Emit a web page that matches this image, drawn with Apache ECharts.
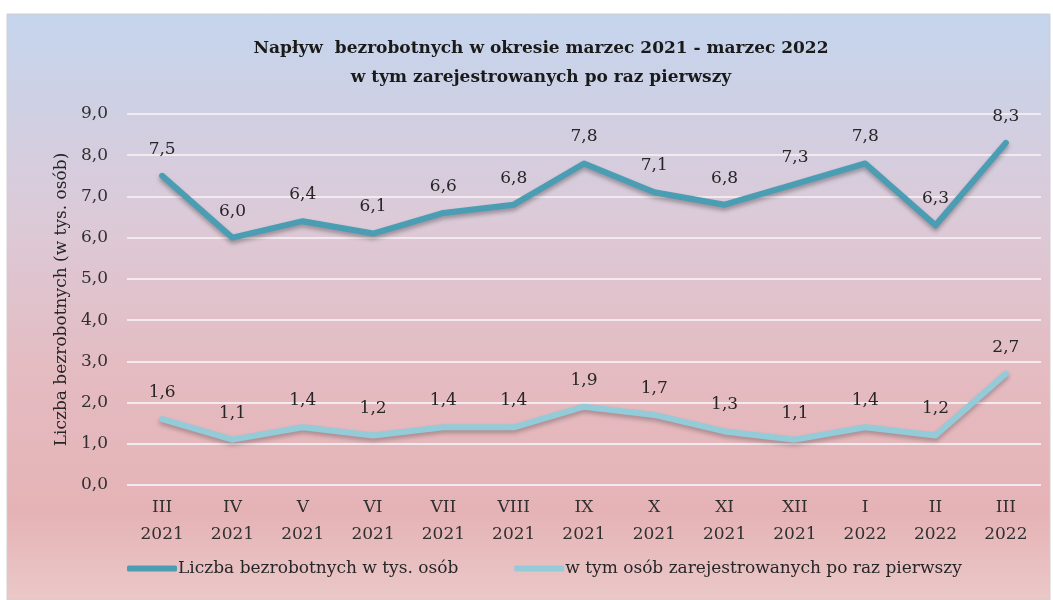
<!DOCTYPE html>
<html>
<head>
<meta charset="utf-8">
<script src="https://cdn.jsdelivr.net/npm/echarts@6/dist/echarts.min.js"></script>
<style>
html,body{margin:0;padding:0;background:#fff;}
#main{width:1053px;height:600px;}
</style>
</head>
<body>
<div id="main"></div>
<script>
var categories = ['III\n2021','IV\n2021','V\n2021','VI\n2021','VII\n2021','VIII\n2021','IX\n2021','X\n2021','XI\n2021','XII\n2021','I\n2022','II\n2022','III\n2022'];
var totalValues = [7.5, 6.0, 6.4, 6.1, 6.6, 6.8, 7.8, 7.1, 6.8, 7.3, 7.8, 6.3, 8.3];
var firstTimeValues = [1.6, 1.1, 1.4, 1.2, 1.4, 1.4, 1.9, 1.7, 1.3, 1.1, 1.4, 1.2, 2.7];
var seriesNames = ['Liczba bezrobotnych w tys. osób', 'w tym osób zarejestrowanych po raz pierwszy'];
var titleText = 'Napływ  bezrobotnych w okresie marzec 2021 - marzec 2022\nw tym zarejestrowanych po raz pierwszy';
var yAxisName = 'Liczba bezrobotnych (w tys. osób)';

var FONT = 'DejaVu Serif';
var fmt = function (v) { return v.toFixed(1).replace('.', ','); };

var chart = echarts.init(document.getElementById('main'), null, {renderer: 'canvas'});
chart.setOption({
  backgroundColor: '#ffffff',
  animation: false,
  graphic: [{
    type: 'rect',
    z: -10,
    silent: true,
    shape: {x: 7, y: 14, width: 1043, height: 586},
    style: {
      fill: new echarts.graphic.LinearGradient(0, 0, 0, 1, [
        {offset: 0, color: '#c4d5ed'},
        {offset: 0.35, color: '#dccad8'},
        {offset: 0.6, color: '#e4bcc2'},
        {offset: 0.85, color: '#e5b3b6'},
        {offset: 1, color: '#ebc8c8'}
      ]),
      stroke: '#cfcfcf',
      lineWidth: 1
    }
  }],
  title: {
    text: titleText,
    left: 536,
    top: 29,
    textAlign: 'center',
    textStyle: {
      fontFamily: FONT,
      fontWeight: 'bold',
      fontSize: 17,
      color: '#1a1a1a',
      lineHeight: 29
    }
  },
  legend: {
    bottom: 18,
    left: 122,
    itemWidth: 50,
    itemHeight: 6,
    itemGap: 56,
    icon: 'roundRect',
    textStyle: {fontFamily: FONT, fontSize: 17, color: '#262626', padding: [0, 0, 0, -4]},
    data: seriesNames
  },
  grid: {left: 127, right: 12, top: 114, bottom: 115},
  xAxis: {
    type: 'category',
    data: categories,
    boundaryGap: true,
    axisLine: {show: false},
    axisTick: {show: false},
    axisLabel: {
      fontFamily: FONT, fontSize: 17, color: '#303030',
      lineHeight: 27, margin: 9, interval: 0
    }
  },
  yAxis: {
    type: 'value',
    min: 0, max: 9, interval: 1,
    name: yAxisName,
    nameLocation: 'middle',
    nameGap: 55,
    nameTextStyle: {fontFamily: FONT, fontSize: 17, color: '#262626'},
    axisLine: {show: false},
    axisTick: {show: false},
    axisLabel: {
      fontFamily: FONT, fontSize: 17, color: '#303030', margin: 19,
      formatter: function (v) { return fmt(v); }
    },
    splitLine: {lineStyle: {color: '#f3eaf0', width: 2}}
  },
  series: [{
    name: seriesNames[0],
    type: 'line',
    data: totalValues,
    symbol: 'circle',
    symbolSize: 0,
    showSymbol: true,
    color: '#4a9db2',
    lineStyle: {width: 6, color: '#4a9db2', shadowColor: 'rgba(0,0,0,0.3)', shadowBlur: 4, shadowOffsetY: 3, cap: 'round', join: 'round'},
    label: {
      show: true, position: 'top', distance: 18,
      fontFamily: FONT, fontSize: 17, color: '#262626',
      formatter: function (p) { return fmt(p.value); }
    },
    labelLayout: {hideOverlap: false}
  }, {
    name: seriesNames[1],
    type: 'line',
    data: firstTimeValues,
    symbol: 'circle',
    symbolSize: 0,
    showSymbol: true,
    color: '#93cbd9',
    lineStyle: {width: 6, color: '#93cbd9', shadowColor: 'rgba(0,0,0,0.25)', shadowBlur: 4, shadowOffsetY: 3, cap: 'round', join: 'round'},
    label: {
      show: true, position: 'top', distance: 18,
      fontFamily: FONT, fontSize: 17, color: '#262626',
      formatter: function (p) { return fmt(p.value); }
    },
    labelLayout: {hideOverlap: false}
  }]
});
</script>
</body>
</html>
